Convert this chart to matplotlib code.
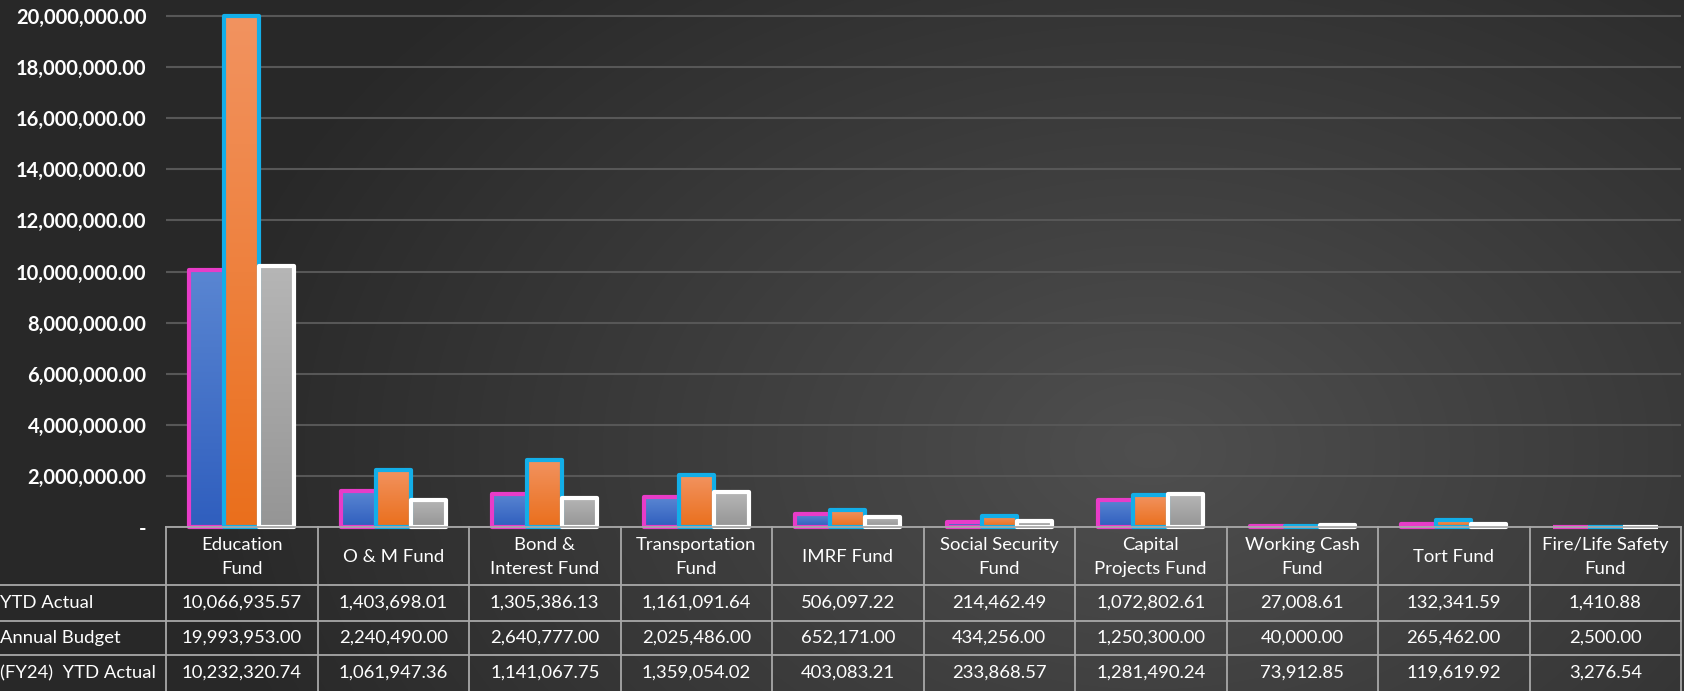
import numpy as np
import matplotlib
matplotlib.use("Agg")
import matplotlib.pyplot as plt
from matplotlib.colors import LinearSegmentedColormap

categories = ["Education\nFund", "O & M Fund", "Bond &\nInterest Fund", "Transportation\nFund",
              "IMRF Fund", "Social Security\nFund", "Capital\nProjects Fund", "Working Cash\nFund",
              "Tort Fund", "Fire/Life Safety\nFund"]
series_names = ["YTD Actual", "Annual Budget", "(FY24)  YTD Actual"]
ytd_actual = [10066935.57, 1403698.01, 1305386.13, 1161091.64, 506097.22, 214462.49,
              1072802.61, 27008.61, 132341.59, 1410.88]
annual_budget = [19993953.00, 2240490.00, 2640777.00, 2025486.00, 652171.00, 434256.00,
                 1250300.00, 40000.00, 265462.00, 2500.00]
fy24_ytd = [10232320.74, 1061947.36, 1141067.75, 1359054.02, 403083.21, 233868.57,
            1281490.24, 73912.85, 119619.92, 3276.54]
yticks = [0, 2e6, 4e6, 6e6, 8e6, 10e6, 12e6, 14e6, 16e6, 18e6, 20e6]

W, H = 1684, 691
fig = plt.figure(figsize=(W / 100, H / 100), dpi=100)
plt.rcParams['font.family'] = ['Lato', 'DejaVu Sans']

# background radial gradient
bg = fig.add_axes([0, 0, 1, 1])
yy, xx = np.mgrid[0:H, 0:W]
d = np.sqrt(((xx - 1150) / 950.0) ** 2 + ((yy - 450) / 650.0) ** 2)
val = np.clip(1 - d, 0, 1)
img = 0.16 + 0.15 * val
bg.imshow(np.dstack([img, img, img]), extent=(0, W, H, 0), aspect='auto')
bg.set_xlim(0, W); bg.set_ylim(H, 0); bg.axis('off')

x_left, x_right = 166, 1681
y_zero, y_20 = 527, 16
ymax = 20e6 * y_zero / (y_zero - y_20)
ax = fig.add_axes([x_left / W, (H - y_zero) / H, (x_right - x_left) / W, y_zero / H])
ax.set_facecolor('none')
ax.set_xlim(-0.5, len(categories) - 0.5)
ax.set_ylim(0, ymax)
for s in ax.spines.values():
    s.set_visible(False)
ax.set_xticks([])
ax.set_yticks(yticks)
ax.set_yticklabels(['-' if v == 0 else f"{v:,.2f}" for v in yticks], color='white',
                   fontsize=14.5, fontweight='bold')
ax.tick_params(axis='y', length=0, pad=14)
ax.yaxis.grid(True, color='#575757', lw=1.5)
ax.set_axisbelow(True)

styles = [
    (ytd_actual, '#5a86d2', '#2f5ebe', '#e83cc8'),
    (annual_budget, '#f29360', '#ea6f1c', '#13aee8'),
    (fy24_ytd, '#b6b6b6', '#959595', '#ffffff'),
]
bw = 0.232
offs = [-bw, 0, bw]
for (vals, ctop, cbot, edge), off in zip(styles, offs):
    cmap = LinearSegmentedColormap.from_list('g', [cbot, ctop])
    grad = np.linspace(0, 1, 256).reshape(-1, 1)
    for i, v in enumerate(vals):
        x0 = i + off - bw / 2
        ax.imshow(grad, cmap=cmap, extent=(x0, x0 + bw, 0, v), origin='lower',
                  aspect='auto', zorder=2)
        ax.bar(i + off, v, width=bw, facecolor='none', edgecolor=edge, lw=3.0,
               zorder=3, clip_on=False, joinstyle='round')
ax.set_xlim(-0.5, len(categories) - 0.5)
ax.set_ylim(0, ymax)

# table
tab = fig.add_axes([0, 0, 1, 1]); tab.set_xlim(0, W); tab.set_ylim(H, 0); tab.axis('off')
n = len(categories)
colw = (x_right - x_left) / n
row_y = [527, 585, 621, 655, 691]
lc = '#a8a8a8'
tab.plot([x_left, x_right], [row_y[0], row_y[0]], color=lc, lw=1.3)
for ry in row_y[1:4]:
    tab.plot([0, x_right], [ry, ry], color=lc, lw=1.3)
for j in range(n + 1):
    xx_ = x_left + j * colw
    tab.plot([xx_, xx_], [row_y[0], H], color=lc, lw=1.3)
fs = 13.3
for j, c in enumerate(categories):
    cx = x_left + (j + 0.5) * colw
    tab.text(cx, (row_y[0] + row_y[1]) / 2 + 1, c, color='white', fontsize=fs,
             ha='center', va='center', linespacing=1.55)
for r, (name, vals) in enumerate(zip(series_names, [ytd_actual, annual_budget, fy24_ytd])):
    cy = (row_y[r + 1] + row_y[r + 2]) / 2
    tab.text(0, cy, name, color='white', fontsize=fs, ha='left', va='center')
    for j, v in enumerate(vals):
        cx = x_left + (j + 0.5) * colw
        tab.text(cx, cy, f"{v:,.2f}", color='white', fontsize=fs, ha='center', va='center')

fig.savefig('out.png', dpi=100)
